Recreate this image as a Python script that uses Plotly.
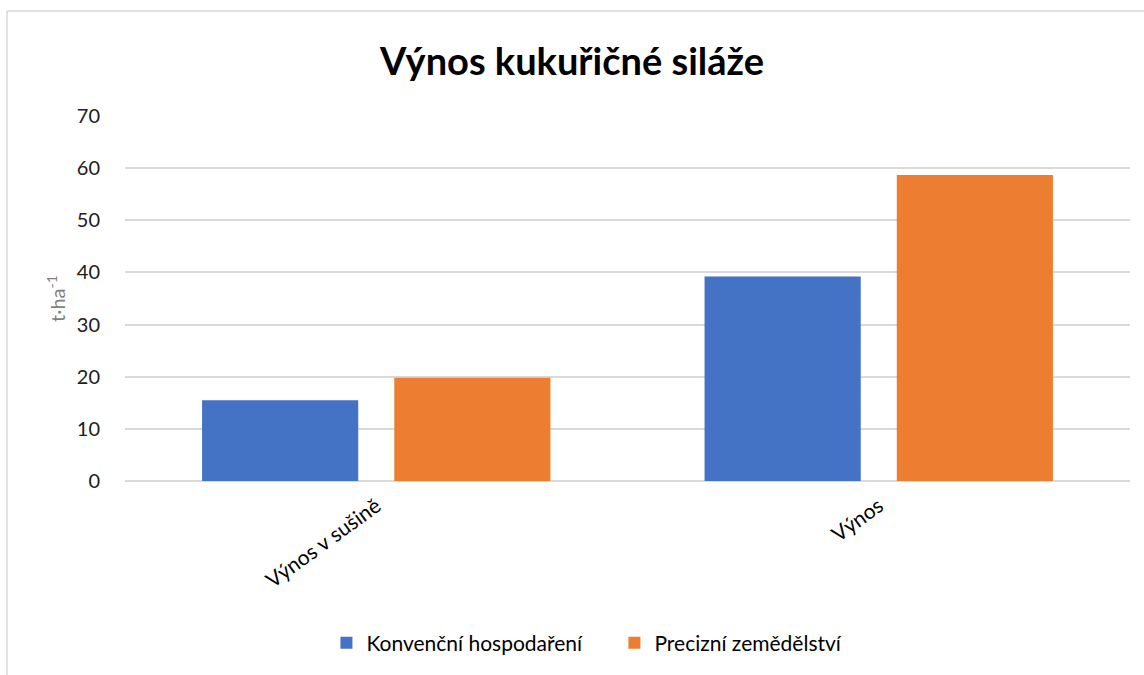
import plotly.graph_objects as go

categories = ["Výnos v sušině", "Výnos"]
konvencni = [15.5, 39.2]
precizni = [19.8, 58.7]
y_ticks = [0, 10, 20, 30, 40, 50, 60, 70]
series_names = ["Konvenční hospodaření", "Precizní zemědělství"]

W, H = 1144, 675
ML, MR, MT, MB = 125, 14, 116, 194
pw = W - ML - MR
ph = H - MT - MB

font_family = "Lato, 'Open Sans', sans-serif"

fig = go.Figure()
fig.add_trace(go.Bar(x=categories, y=konvencni, name=series_names[0],
                     marker=dict(color="#4472C4", line=dict(width=0))))
fig.add_trace(go.Bar(x=categories, y=precizni, name=series_names[1],
                     marker=dict(color="#ED7D31", line=dict(width=0))))

def px2paper_x(px):
    return (px - ML) / pw

def px2paper_y(py):
    return 1 - (py - MT) / ph

fig.update_layout(
    width=W, height=H,
    margin=dict(l=ML, r=MR, t=MT, b=MB),
    paper_bgcolor="white", plot_bgcolor="white",
    barmode="group", bargap=0.235, bargroupgap=0.1875,
    title=dict(text="<b>Výnos kukuřičné siláže</b>", x=0.5, xanchor="center",
               y=1 - 62 / H, yanchor="middle",
               font=dict(family=font_family, size=38, color="#000000")),
    font=dict(family=font_family, color="#404040"),
    xaxis=dict(tickangle=-36, tickfont=dict(size=21, color="#000000"),
               showgrid=False, showline=False, ticks="", zeroline=False,
               ticklabelstandoff=8),
    yaxis=dict(range=[0, 70], tickvals=y_ticks, ticktext=[str(v) for v in y_ticks],
               showgrid=True, gridcolor="#D9D9D9", gridwidth=1.5,
               zeroline=True, zerolinecolor="#D9D9D9", zerolinewidth=1.5,
               showline=False, ticks="", ticklabelstandoff=24,
               tickfont=dict(size=20, color="#202020"),
               title=dict(text="t·ha<sup>-1</sup>", standoff=5,
                          font=dict(size=20, color="#7F7F7F"))),
    legend=dict(orientation="h", x=0.487, xanchor="center",
                y=px2paper_y(643), yanchor="middle",
                font=dict(size=21, color="#000000"),
                itemwidth=30, traceorder="normal",
                entrywidth=243, entrywidthmode="pixels"),
    shapes=[
        dict(type="line", xref="paper", yref="paper",
             x0=px2paper_x(7), x1=px2paper_x(1160),
             y0=px2paper_y(11), y1=px2paper_y(11),
             line=dict(color="#D9D9D9", width=1.5)),
        dict(type="line", xref="paper", yref="paper",
             x0=px2paper_x(7), x1=px2paper_x(7),
             y0=px2paper_y(11), y1=px2paper_y(700),
             line=dict(color="#D9D9D9", width=1.5)),
    ],
)

fig.write_html("out.html", config={"displayModeBar": False},
               post_script="document.body.style.margin='0px';document.body.style.padding='0px';")
